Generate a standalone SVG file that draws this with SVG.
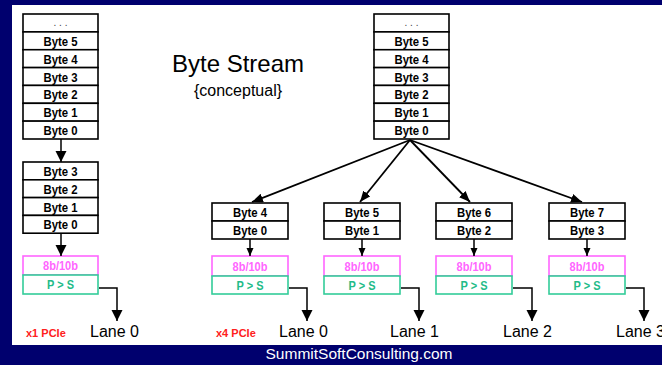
<svg xmlns="http://www.w3.org/2000/svg" width="662" height="365" viewBox="0 0 662 365">
<style>
.cell{fill:#fff;stroke:#000;stroke-width:1.6}
.bt{font-family:"Liberation Sans",Arial,sans-serif;font-weight:bold;font-size:12.5px;text-anchor:middle;fill:#000}
.dots{font-family:"Liberation Sans",Arial,sans-serif;font-size:10px;text-anchor:middle;fill:#444}
.enc{fill:#fff;stroke:#ff66ff;stroke-width:1.6}
.enct{font-family:"Liberation Sans",Arial,sans-serif;font-weight:bold;font-size:12px;text-anchor:middle;fill:#ff66ff}
.ser{fill:#fff;stroke:#33cc99;stroke-width:1.6}
.sert{font-family:"Liberation Sans",Arial,sans-serif;font-weight:bold;font-size:12px;text-anchor:middle;fill:#22bb88}
.lane{font-family:"Liberation Sans",Arial,sans-serif;font-size:16px;fill:#000}
.pcie{font-family:"Liberation Sans",Arial,sans-serif;font-weight:bold;font-size:11px;fill:#ff2020}
.ln{fill:none;stroke:#000;stroke-width:1.5}
.fan{fill:none;stroke:#000;stroke-width:1.8}
</style>
<defs>
<marker id="aL" markerUnits="userSpaceOnUse" markerWidth="12" markerHeight="12" refX="11" refY="5.5" orient="auto"><path d="M0,0 L11,5.5 L0,11 z" fill="#000"/></marker>
<marker id="aS" markerUnits="userSpaceOnUse" markerWidth="9" markerHeight="8" refX="8" refY="3.5" orient="auto"><path d="M0,0 L8,3.5 L0,7 z" fill="#000"/></marker>
<marker id="aF" markerUnits="userSpaceOnUse" markerWidth="12" markerHeight="10" refX="11" refY="4.5" orient="auto"><path d="M0,0 L11,4.5 L0,9 z" fill="#000"/></marker>
</defs>
<rect x="0" y="0" width="662" height="365" fill="#00006e"/>
<rect x="12" y="5" width="650" height="340" fill="#fff"/>

<g id="title">
<text x="238" y="72" font-family="Liberation Sans,Arial,sans-serif" font-size="24" text-anchor="middle" fill="#000">Byte Stream</text>
<text x="238" y="96" font-family="Liberation Sans,Arial,sans-serif" font-size="16" text-anchor="middle" fill="#000">{conceptual}</text>
</g>

<g id="stream-x1">
<rect class="cell" x="23" y="14" width="75" height="17.9"/>
<rect class="cell" x="23" y="31.9" width="75" height="17.9"/>
<rect class="cell" x="23" y="49.7" width="75" height="17.9"/>
<rect class="cell" x="23" y="67.6" width="75" height="17.9"/>
<rect class="cell" x="23" y="85.4" width="75" height="17.9"/>
<rect class="cell" x="23" y="103.3" width="75" height="17.9"/>
<rect class="cell" x="23" y="121.1" width="75" height="17.9"/>
<text class="dots" x="60.5" y="26">. . .</text>
<text class="bt" x="60.5" y="45.5" textLength="34" lengthAdjust="spacingAndGlyphs">Byte 5</text>
<text class="bt" x="60.5" y="63.5" textLength="34" lengthAdjust="spacingAndGlyphs">Byte 4</text>
<text class="bt" x="60.5" y="81.5" textLength="34" lengthAdjust="spacingAndGlyphs">Byte 3</text>
<text class="bt" x="60.5" y="99" textLength="34" lengthAdjust="spacingAndGlyphs">Byte 2</text>
<text class="bt" x="60.5" y="117" textLength="34" lengthAdjust="spacingAndGlyphs">Byte 1</text>
<text class="bt" x="60.5" y="134.5" textLength="34" lengthAdjust="spacingAndGlyphs">Byte 0</text>
</g>

<g id="lane-x1-bytes">
<rect class="cell" x="23" y="162" width="75" height="17.8"/>
<rect class="cell" x="23" y="179.8" width="75" height="17.8"/>
<rect class="cell" x="23" y="197.6" width="75" height="17.8"/>
<rect class="cell" x="23" y="215.4" width="75" height="17.8"/>
<text class="bt" x="60.5" y="175.5" textLength="34" lengthAdjust="spacingAndGlyphs">Byte 3</text>
<text class="bt" x="60.5" y="193.5" textLength="34" lengthAdjust="spacingAndGlyphs">Byte 2</text>
<text class="bt" x="60.5" y="211.5" textLength="34" lengthAdjust="spacingAndGlyphs">Byte 1</text>
<text class="bt" x="60.5" y="229" textLength="34" lengthAdjust="spacingAndGlyphs">Byte 0</text>
</g>
<g id="lane-x1-enc">
<rect class="enc" x="23" y="256" width="75" height="19"/>
<text class="enct" x="60.5" y="270" textLength="35" lengthAdjust="spacingAndGlyphs">8b/10b</text>
<rect class="ser" x="23" y="275" width="75" height="19"/>
<text class="sert" x="60.5" y="289" textLength="27" lengthAdjust="spacingAndGlyphs">P &gt; S</text>
</g>

<g id="stream-x4">
<rect class="cell" x="374" y="14" width="75" height="17.9"/>
<rect class="cell" x="374" y="31.9" width="75" height="17.9"/>
<rect class="cell" x="374" y="49.7" width="75" height="17.9"/>
<rect class="cell" x="374" y="67.6" width="75" height="17.9"/>
<rect class="cell" x="374" y="85.4" width="75" height="17.9"/>
<rect class="cell" x="374" y="103.3" width="75" height="17.9"/>
<rect class="cell" x="374" y="121.1" width="75" height="17.9"/>
<text class="dots" x="411.5" y="26">. . .</text>
<text class="bt" x="411.5" y="45.5" textLength="34" lengthAdjust="spacingAndGlyphs">Byte 5</text>
<text class="bt" x="411.5" y="63.5" textLength="34" lengthAdjust="spacingAndGlyphs">Byte 4</text>
<text class="bt" x="411.5" y="81.5" textLength="34" lengthAdjust="spacingAndGlyphs">Byte 3</text>
<text class="bt" x="411.5" y="99" textLength="34" lengthAdjust="spacingAndGlyphs">Byte 2</text>
<text class="bt" x="411.5" y="117" textLength="34" lengthAdjust="spacingAndGlyphs">Byte 1</text>
<text class="bt" x="411.5" y="134.5" textLength="34" lengthAdjust="spacingAndGlyphs">Byte 0</text>
</g>

<g id="lane0-x4">
<rect class="cell" x="212" y="203" width="76" height="18"/>
<rect class="cell" x="212" y="221" width="76" height="18"/>
<text class="bt" x="250" y="216.5" textLength="34" lengthAdjust="spacingAndGlyphs">Byte 4</text>
<text class="bt" x="250" y="234.5" textLength="34" lengthAdjust="spacingAndGlyphs">Byte 0</text>
<rect class="enc" x="212" y="256" width="76" height="20"/>
<text class="enct" x="250" y="270.5" textLength="35" lengthAdjust="spacingAndGlyphs">8b/10b</text>
<rect class="ser" x="212" y="276" width="76" height="18"/>
<text class="sert" x="250" y="289.5" textLength="27" lengthAdjust="spacingAndGlyphs">P &gt; S</text>
</g>
<g id="lane1-x4">
<rect class="cell" x="324" y="203" width="76" height="18"/>
<rect class="cell" x="324" y="221" width="76" height="18"/>
<text class="bt" x="362" y="216.5" textLength="34" lengthAdjust="spacingAndGlyphs">Byte 5</text>
<text class="bt" x="362" y="234.5" textLength="34" lengthAdjust="spacingAndGlyphs">Byte 1</text>
<rect class="enc" x="324" y="256" width="76" height="20"/>
<text class="enct" x="362" y="270.5" textLength="35" lengthAdjust="spacingAndGlyphs">8b/10b</text>
<rect class="ser" x="324" y="276" width="76" height="18"/>
<text class="sert" x="362" y="289.5" textLength="27" lengthAdjust="spacingAndGlyphs">P &gt; S</text>
</g>
<g id="lane2-x4">
<rect class="cell" x="436" y="203" width="76" height="18"/>
<rect class="cell" x="436" y="221" width="76" height="18"/>
<text class="bt" x="474" y="216.5" textLength="34" lengthAdjust="spacingAndGlyphs">Byte 6</text>
<text class="bt" x="474" y="234.5" textLength="34" lengthAdjust="spacingAndGlyphs">Byte 2</text>
<rect class="enc" x="436" y="256" width="76" height="20"/>
<text class="enct" x="474" y="270.5" textLength="35" lengthAdjust="spacingAndGlyphs">8b/10b</text>
<rect class="ser" x="436" y="276" width="76" height="18"/>
<text class="sert" x="474" y="289.5" textLength="27" lengthAdjust="spacingAndGlyphs">P &gt; S</text>
</g>
<g id="lane3-x4">
<rect class="cell" x="549" y="203" width="76" height="18"/>
<rect class="cell" x="549" y="221" width="76" height="18"/>
<text class="bt" x="587" y="216.5" textLength="34" lengthAdjust="spacingAndGlyphs">Byte 7</text>
<text class="bt" x="587" y="234.5" textLength="34" lengthAdjust="spacingAndGlyphs">Byte 3</text>
<rect class="enc" x="549" y="256" width="76" height="20"/>
<text class="enct" x="587" y="270.5" textLength="35" lengthAdjust="spacingAndGlyphs">8b/10b</text>
<rect class="ser" x="549" y="276" width="76" height="18"/>
<text class="sert" x="587" y="289.5" textLength="27" lengthAdjust="spacingAndGlyphs">P &gt; S</text>
</g>

<g id="connectors">
<line class="ln" x1="61" y1="139" x2="61" y2="162" marker-end="url(#aL)"/>
<line class="ln" x1="61" y1="233" x2="61" y2="256" marker-end="url(#aL)"/>
<polyline class="ln" points="99,288 117,288 117,321" marker-end="url(#aL)"/>
<line class="fan" x1="410" y1="140" x2="252" y2="202" marker-end="url(#aF)"/>
<line class="fan" x1="410" y1="140" x2="360" y2="202" marker-end="url(#aF)"/>
<line class="fan" x1="410" y1="140" x2="470" y2="202" marker-end="url(#aF)"/>
<line class="fan" x1="410" y1="140" x2="582" y2="202" marker-end="url(#aF)"/>
<line class="ln" x1="250" y1="239" x2="250" y2="256" marker-end="url(#aS)"/>
<line class="ln" x1="362" y1="239" x2="362" y2="256" marker-end="url(#aS)"/>
<line class="ln" x1="474" y1="239" x2="474" y2="256" marker-end="url(#aS)"/>
<line class="ln" x1="587" y1="239" x2="587" y2="256" marker-end="url(#aS)"/>
<polyline class="ln" points="289,288 307,288 307,321" marker-end="url(#aL)"/>
<polyline class="ln" points="401,288 419,288 419,321" marker-end="url(#aL)"/>
<polyline class="ln" points="513,288 532,288 532,321" marker-end="url(#aL)"/>
<polyline class="ln" points="626,288 644,288 644,321" marker-end="url(#aL)"/>
</g>

<g id="labels">
<text class="pcie" x="26" y="337">x1 PCIe</text>
<text class="lane" x="90" y="337">Lane 0</text>
<text class="pcie" x="216" y="337">x4 PCIe</text>
<text class="lane" x="279" y="337">Lane 0</text>
<text class="lane" x="390" y="337">Lane 1</text>
<text class="lane" x="503" y="337">Lane 2</text>
<text class="lane" x="616" y="337">Lane 3</text>
</g>

<g id="footer">
<text x="359" y="359" font-family="Liberation Sans,Arial,sans-serif" font-size="15.5" text-anchor="middle" fill="#fff">SummitSoftConsulting.com</text>
</g>
</svg>
